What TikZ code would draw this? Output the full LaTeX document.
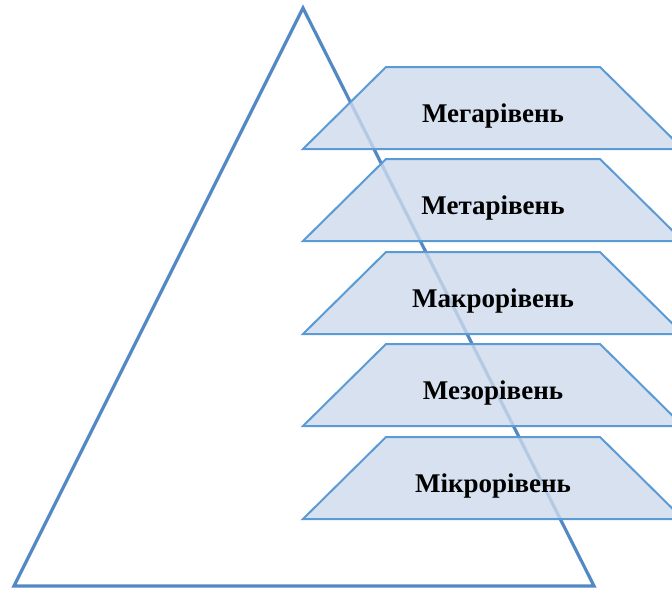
\documentclass[tikz,border=0pt]{standalone}
\usepackage{fontspec}
\setmainfont{Liberation Serif}
\usepackage{tikz}
\usetikzlibrary{backgrounds}

\definecolor{levelline}{RGB}{91,155,213}
\definecolor{levelfill}{RGB}{205,218,235}
\definecolor{triline}{RGB}{82,137,196}

\tikzset{
  tri/.style={draw=triline,line width=3.2pt,line join=miter},
  levelbox/.style={draw=levelline,line width=2pt,fill=levelfill,fill opacity=0.8},
  levelname/.style={font=\fontsize{27}{30}\selectfont\bfseries,text=black}
}

\begin{document}
\begin{tikzpicture}[x=1pt,y=-1pt]
    \useasboundingbox (0,0) rectangle (672,589);
    % triangle
    \coordinate (apex) at (303,8);
    \coordinate (left) at (14,586);
    \coordinate (right) at (594,586);
    \draw[tri] (apex) -- (left) -- (right) -- cycle;

    % levels
    \foreach \top/\name/\txt in {67/mega/Мегарівень,159/meta/Метарівень,252/makro/Макрорівень,344/mezo/Мезорівень,437/mikro/Мікрорівень}{
      \draw[levelbox] (303,\top+82) -- (386,\top) -- (600,\top) -- (683,\top+82) -- cycle;
      \draw (493,\top+49) node[levelname] (\name) {\txt};
    }
\end{tikzpicture}
\end{document}
